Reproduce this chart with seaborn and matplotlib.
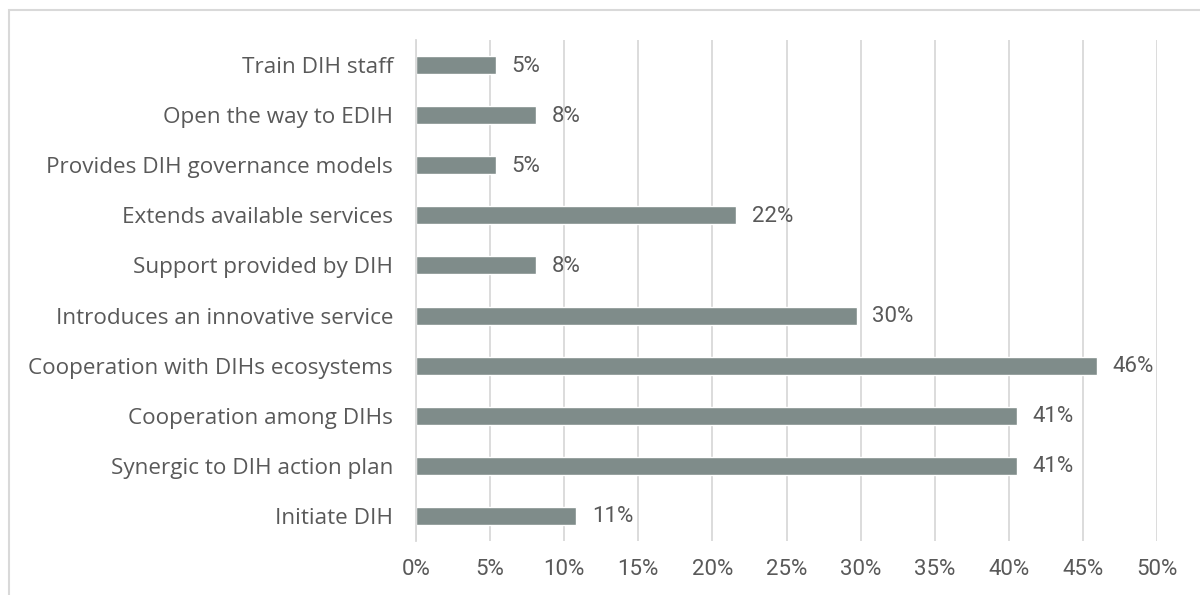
import matplotlib
matplotlib.use("Agg")
import matplotlib.pyplot as plt
import seaborn as sns
import pandas as pd
from matplotlib.patches import Rectangle
from matplotlib.ticker import FuncFormatter

categories = [
    "Train DIH staff",
    "Open the way to EDIH",
    "Provides DIH governance models",
    "Extends available services",
    "Support provided by DIH",
    "Introduces an innovative service",
    "Cooperation with DIHs ecosystems",
    "Cooperation among DIHs",
    "Synergic to DIH action plan",
    "Initiate DIH",
]
values = [5.41, 8.11, 5.41, 21.62, 8.11, 29.73, 45.95, 40.54, 40.54, 10.81]
xticks = [0, 5, 10, 15, 20, 25, 30, 35, 40, 45, 50]

sns.set_theme(style="white")
plt.rcParams["font.family"] = ["Open Sans", "DejaVu Sans"]
num_font = ["Roboto", "DejaVu Sans"]

text_color = "#595959"
grid_color = "#D9D9D9"
bar_color = "#7F8C8A"

df = pd.DataFrame({"cat": categories, "val": values})

fig = plt.figure(figsize=(12, 5.95), dpi=100)
ax = fig.add_axes([416 / 1200, 1 - 541 / 595, (1157 - 416) / 1200, (541 - 40) / 595])

sns.barplot(data=df, x="val", y="cat", color=bar_color, saturation=1, width=0.36, ax=ax, zorder=3)

ax.set_xlim(0, 50)
ax.set_ylim(9.5, -0.5)
ax.set_xticks(xticks)
ax.xaxis.set_major_formatter(FuncFormatter(lambda v, p: f"{v:.0f}%"))
ax.grid(axis="x", color=grid_color, linewidth=1.3, zorder=0)
ax.grid(axis="y", visible=False)
for s in ["top", "right", "bottom"]:
    ax.spines[s].set_visible(False)
ax.spines["left"].set_color(grid_color)
ax.spines["left"].set_linewidth(1.3)
ax.spines["left"].set_zorder(4)
ax.tick_params(axis="x", length=0, pad=13, labelcolor=text_color)
ax.tick_params(axis="y", length=0, pad=16.5, labelsize=16.2, labelcolor=text_color)
for lab in ax.get_xticklabels():
    lab.set_family(num_font)
    lab.set_fontsize(16)
ax.set_xlabel("")
ax.set_ylabel("")

for i, v in enumerate(values):
    ax.text(v + 1.05, i + 0.02, f"{v:.0f}%", va="center", ha="left", fontsize=16,
            color=text_color, family=num_font)

fig.add_artist(Rectangle((9 / 1200, -0.1), 1.2, 1 - 10 / 595 + 0.1, transform=fig.transFigure,
                         fill=False, edgecolor=grid_color, linewidth=1.5))

fig.savefig("out.png", dpi=100)
